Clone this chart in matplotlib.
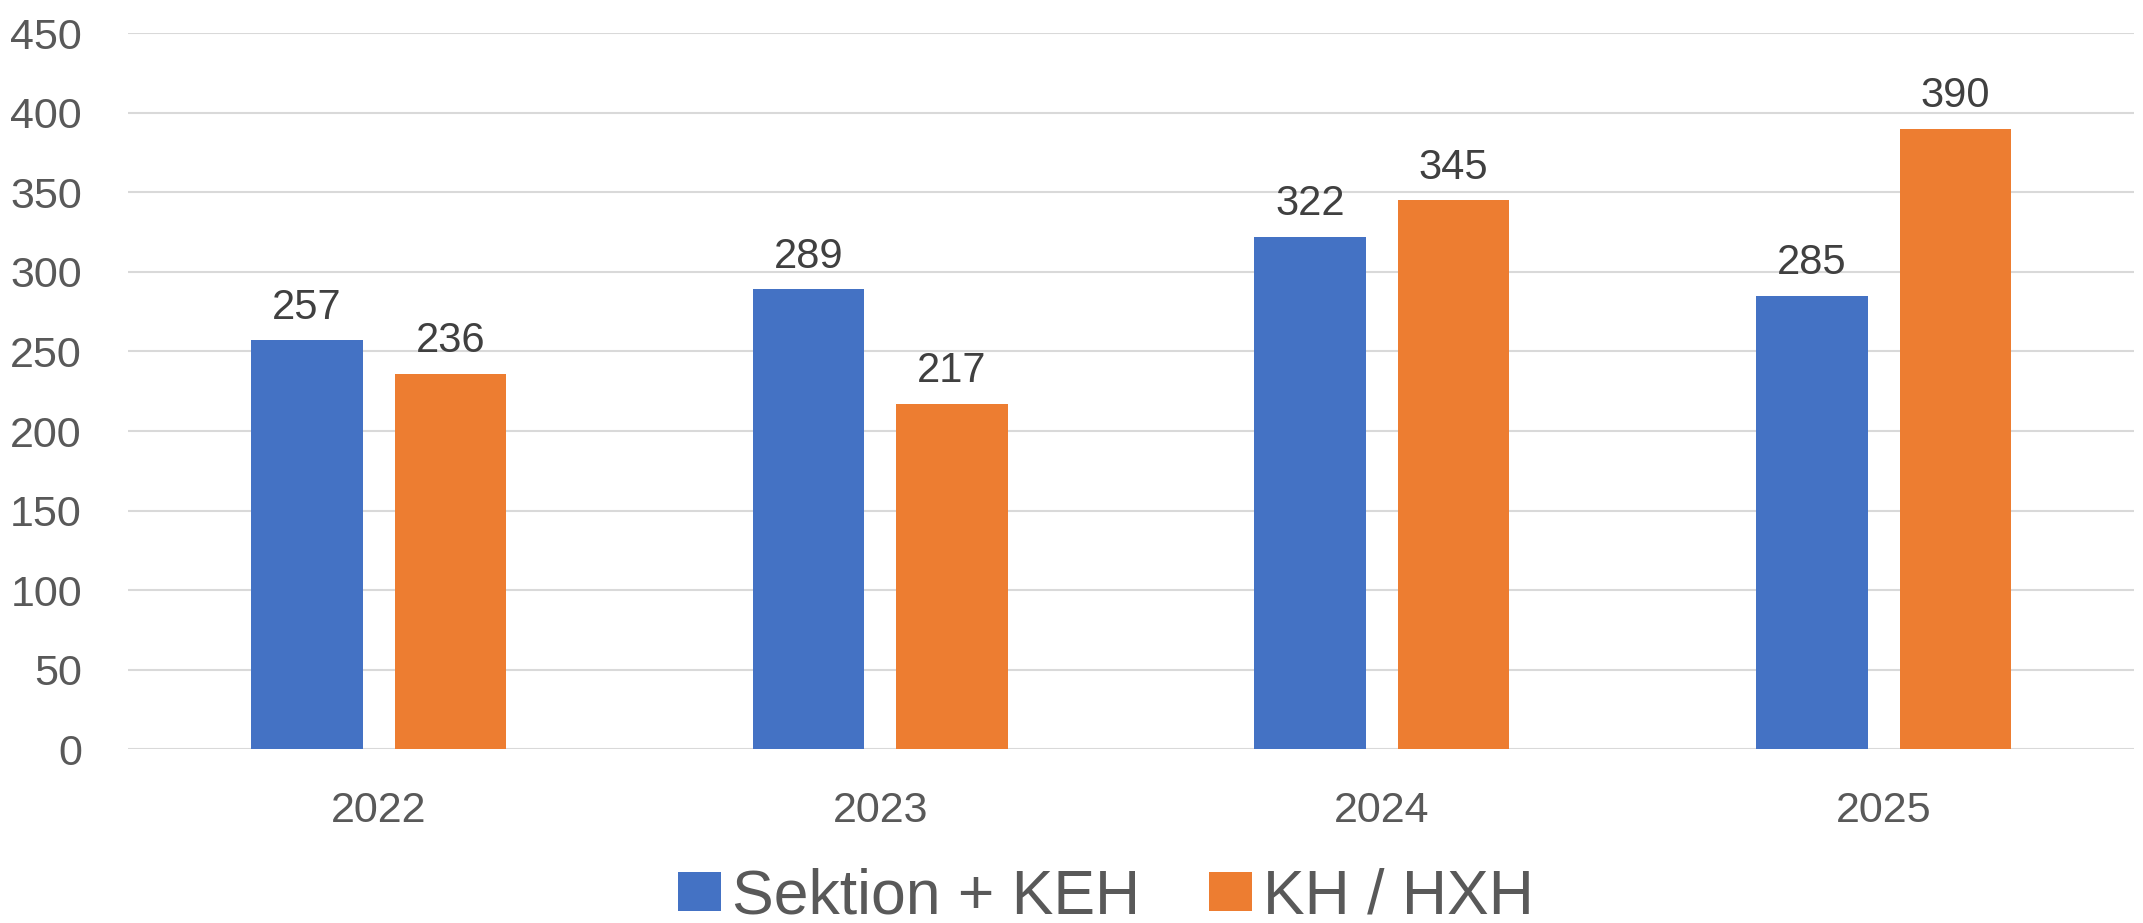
import matplotlib
matplotlib.use("Agg")
import matplotlib.pyplot as plt
import numpy as np

years = ["2022", "2023", "2024", "2025"]
sektion_keh = [257, 289, 322, 285]
kh_hxh = [236, 217, 345, 390]
series_names = ["Sektion + KEH", "KH / HXH"]
y_ticks = [0, 50, 100, 150, 200, 250, 300, 350, 400, 450]

plt.rcParams['font.family'] = ['Liberation Sans', 'DejaVu Sans']

fig = plt.figure(figsize=(21.43, 9.23), dpi=100)
ax = fig.add_axes([0.0596, 0.188, 0.9364, 0.7762])

x = np.arange(len(years))
w = 0.222
off = 0.143
b1 = ax.bar(x - off, sektion_keh, w, color='#4472C4', label=series_names[0], zorder=3)
b2 = ax.bar(x + off, kh_hxh, w, color='#ED7D31', label=series_names[1], zorder=3)

for bars in (b1, b2):
    ax.bar_label(bars, padding=9, fontsize=30, color='#404040')

ax.set_xlim(-0.5, len(years) - 0.5)
ax.set_ylim(0, 450)
ax.set_yticks(y_ticks)
ax.set_xticks(x)
ax.set_xticklabels(years)
ax.grid(axis='y', color='#D9D9D9', linewidth=1.5, zorder=0)
ax.set_axisbelow(True)
for s in ax.spines.values():
    s.set_visible(False)
ax.tick_params(axis='y', length=0, pad=33, labelsize=31, labelcolor='#595959')
ax.tick_params(axis='x', length=0, pad=30, labelsize=31, labelcolor='#595959')

fig.legend(loc='center', bbox_to_anchor=(1106 / 2143, 1 - 897 / 923), ncol=2,
           frameon=False, fontsize=45, labelcolor='#595959',
           handlelength=0.68, handleheight=0.6, handletextpad=0.18,
           columnspacing=1.1, borderpad=0.2)

fig.savefig("out.png", dpi=100)
